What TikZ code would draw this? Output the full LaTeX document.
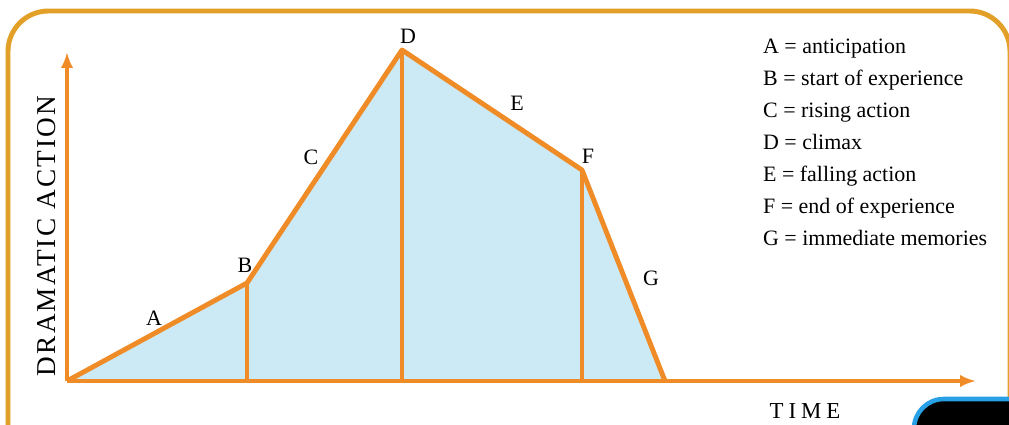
\documentclass[tikz,border=0pt]{standalone}
\usepackage{fontspec}
\setmainfont{Liberation Serif}
\usetikzlibrary{arrows.meta}

\definecolor{curveorange}{RGB}{240,140,40}
\definecolor{framegold}{RGB}{226,160,40}
\definecolor{areablue}{RGB}{204,234,246}
\definecolor{tabblue}{RGB}{40,160,230}

\begin{document}
\begin{tikzpicture}[x=0.02cm, y=-0.02cm,
    every node/.style={font=\fontsize{12.5}{14}\selectfont, inner sep=1pt},
    curve/.style={draw=curveorange, line width=2.8pt, line join=round},
    axis/.style={draw=curveorange, line width=2.4pt, -{Latex[length=9pt,width=7pt]}},
    legend/.style={anchor=base west}]
    \useasboundingbox (0,0) rectangle (1009,425);
    \clip (0,0) rectangle (1009,425);

    % Outer frame and tab
    \draw[framegold, line width=2.8pt, rounded corners=23pt] (8,11) rectangle (1010,480);
    \draw[tabblue, fill=black, line width=2.6pt, rounded corners=17pt] (914,399) rectangle (1080,480);

    % Curve points
    \coordinate (O) at (67,381);
    \coordinate (B) at (247,283);
    \coordinate (D) at (402,50);
    \coordinate (F) at (582,170);
    \coordinate (G) at (665,381);
    \coordinate (Bb) at (247,381);
    \coordinate (Db) at (402,381);
    \coordinate (Fb) at (582,381);
    \coordinate (ytip) at (67,52);
    \coordinate (xtip) at (976,381);

    % Area under curve
    \fill[areablue] (O) -- (B) -- (D) -- (F) -- (G) -- cycle;

    % Axes
    \draw[axis] (O) -- (ytip);
    \draw[axis] (O) -- (xtip);

    % Curve and dividers
    \draw[curve] (O) -- (B) -- (D) -- (F) -- (G);
    \draw[curve] (B) -- (Bb);
    \draw[curve] (D) -- (Db);
    \draw[curve] (F) -- (Fb);

    % Point labels
    \node (lA) at (154,318) {A};
    \node (lB) at (245,265) {B};
    \node (lC) at (311,157) {C};
    \node (lD) at (408,36) {D};
    \node (lE) at (517,103) {E};
    \node (lF) at (588,156) {F};
    \node (lG) at (651,278) {G};

    % Axis titles
    \node[rotate=90, font=\fontsize{15.5}{17}\selectfont\addfontfeatures{LetterSpace=8}] (ytitle) at (47,236) {DRAMATIC ACTION};
    \node[font=\fontsize{13}{15}\selectfont\addfontfeatures{LetterSpace=22}] (xtitle) at (805,411) {TIME};

    % Legend
    \node[legend] (leg1) at (761,54) {A = anticipation};
    \node[legend] (leg2) at (761,86) {B = start of experience};
    \node[legend] (leg3) at (761,118) {C = rising action};
    \node[legend] (leg4) at (761,150) {D = climax};
    \node[legend] (leg5) at (761,182) {E = falling action};
    \node[legend] (leg6) at (761,214) {F = end of experience};
    \node[legend] (leg7) at (761,246) {G = immediate memories};
\end{tikzpicture}
\end{document}
